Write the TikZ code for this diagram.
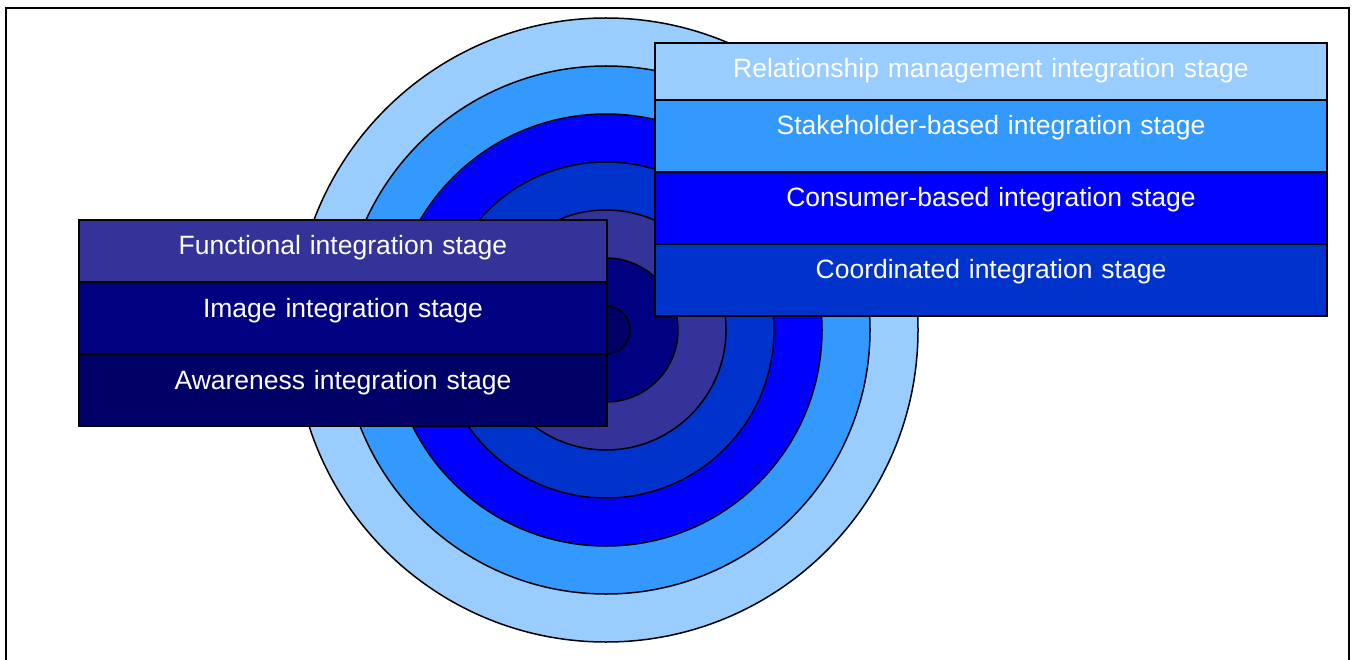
\documentclass[tikz,border=0pt]{standalone}
\usepackage{fontspec}
\setmainfont{Liberation Sans}
\definecolor{cA}{HTML}{000066}
\definecolor{cB}{HTML}{000080}
\definecolor{cC}{HTML}{333399}
\definecolor{cD}{HTML}{0033CC}
\definecolor{cE}{HTML}{0000FF}
\definecolor{cF}{HTML}{3399FF}
\definecolor{cG}{HTML}{99CCFF}
\tikzset{
  ring/.style={draw=black, line width=1.5pt},
  rowbox/.style={draw=black, line width=2pt, anchor=north west, inner sep=0pt,
    text=white, align=center, font=\fontsize{26.5pt}{30pt}\selectfont, text height=35pt},
  leftrow/.style={rowbox, minimum width=528pt, text width=528pt},
  rightrow/.style={rowbox, minimum width=672pt, text width=672pt},
}
\begin{document}
\begin{tikzpicture}[x=1pt, y=-1pt]
\useasboundingbox (0,0) rectangle (1354,660);
\fill[white] (0,0) rectangle (1354,660);
\draw[line width=2pt] (6,8) rectangle (1349,720);
\coordinate (c) at (606,330);
\foreach \r/\col in {312/cG, 264/cF, 216/cE, 168/cD, 120/cC, 72/cB, 24/cA}
  \draw[ring, fill=\col] (c) circle[radius=\r];
% left box
\node[leftrow, fill=cC, text depth=27pt] (func) at (78,219) {Functional integration stage};
\node[leftrow, fill=cB, text depth=37pt] (img) at (78,281) {Image integration stage};
\node[leftrow, fill=cA, text depth=37pt] (aware) at (78,353) {Awareness integration stage};
% right box
\node[rightrow, fill=cG, text depth=22pt] (rel) at (654,42) {Relationship management integration stage};
\node[rightrow, fill=cF, text depth=37pt] (stake) at (654,99) {Stakeholder-based integration stage};
\node[rightrow, fill=cE, text depth=37pt] (cons) at (654,171) {Consumer-based integration stage};
\node[rightrow, fill=cD, text depth=37pt] (coord) at (654,243) {Coordinated integration stage};
\end{tikzpicture}
\end{document}
